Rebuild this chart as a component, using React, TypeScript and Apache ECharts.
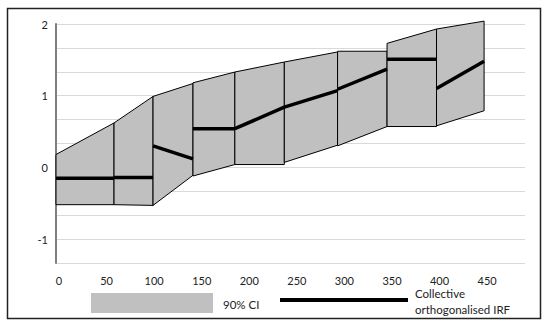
import React, { useEffect, useRef } from "react";
import * as echarts from "echarts";

// x positions of the segment boundaries
const xs = [0, 61, 102, 144, 188, 240, 296, 348, 400, 450];
// 90% CI band, each segment between xs[i] and xs[i+1]
const upperStart = [0.18, 0.62, 0.99, 1.18, 1.33, 1.47, 1.62, 1.73, 1.93];
const upperEnd = [0.62, 0.99, 1.17, 1.33, 1.47, 1.61, 1.62, 1.93, 2.04];
const lowerStart = [-0.52, -0.52, -0.53, -0.12, 0.04, 0.07, 0.3, 0.57, 0.58];
const lowerEnd = [-0.52, -0.53, -0.11, 0.04, 0.04, 0.31, 0.57, 0.57, 0.79];
// Collective orthogonalised IRF
const irfStart = [-0.15, -0.14, 0.3, 0.54, 0.54, 0.84, 1.09, 1.51, 1.1];
const irfEnd = [-0.15, -0.14, 0.12, 0.54, 0.84, 1.07, 1.37, 1.51, 1.48];

const xTickLabels = [0, 50, 100, 150, 200, 250, 300, 350, 400, 450];
const yTickLabels = [-1, 0, 1, 2];
const legendNames = ["90% CI", "Collective", "orthogonalised IRF"];

const FONT = "Lato, 'Open Sans', sans-serif";

export default function App() {
  const ref = useRef<HTMLDivElement>(null);

  useEffect(() => {
    if (!ref.current) return;
    const chart = echarts.init(ref.current, undefined, { renderer: "svg" });

    const bandData = upperStart.map((_, i) => [
      xs[i],
      xs[i + 1],
      lowerStart[i],
      upperStart[i],
      lowerEnd[i],
      upperEnd[i],
    ]);
    const irfData = irfStart.map((_, i) => [xs[i], irfStart[i], xs[i + 1], irfEnd[i]]);

    chart.setOption({
      animation: false,
      grid: { left: 56, top: 24, right: 25, bottom: 62 },
      xAxis: {
        type: "value",
        min: 0,
        max: 493,
        interval: 50,
        axisLine: { show: false },
        axisTick: { show: false },
        splitLine: { show: false },
        axisLabel: {
          margin: 12,
          fontFamily: FONT,
          fontSize: 11,
          color: "#222",
          padding: [0, 0, 0, 6],
          showMaxLabel: false,
          formatter: (v: number) =>
            xTickLabels.includes(Math.round(v)) && Math.abs(v - Math.round(v)) < 1e-6 ? String(Math.round(v)) : "",
        },
      },
      yAxis: {
        type: "value",
        min: -4 / 3,
        max: 2,
        interval: 1 / 3,
        axisLine: { show: true, lineStyle: { color: "#7f7f7f", width: 2 } },
        axisTick: { show: false },
        splitLine: { show: true, lineStyle: { color: "#d9d9d9", width: 1 } },
        axisLabel: {
          margin: 8,
          fontFamily: FONT,
          fontSize: 11,
          color: "#222",
          formatter: (v: number) => {
            const r = Math.round(v);
            return Math.abs(v - r) < 1e-6 && yTickLabels.includes(r) ? String(r) : "";
          },
        },
      },
      series: [
        {
          type: "custom",
          name: "90% CI",
          data: bandData,
          encode: { x: [0, 1], y: [2, 3, 4, 5] },
          renderItem: (params: any, api: any) => {
            const x0 = api.value(0);
            const x1 = api.value(1);
            const pts = [
              api.coord([x0, api.value(2)]),
              api.coord([x0, api.value(3)]),
              api.coord([x1, api.value(5)]),
              api.coord([x1, api.value(4)]),
            ];
            return {
              type: "polygon",
              shape: { points: pts },
              style: { fill: "#c0c0c0", stroke: "#000", lineWidth: 1 },
            };
          },
          z: 2,
        },
        {
          type: "custom",
          name: "Collective orthogonalised IRF",
          data: irfData,
          encode: { x: [0, 2], y: [1, 3] },
          renderItem: (params: any, api: any) => {
            const p0 = api.coord([api.value(0), api.value(1)]);
            const p1 = api.coord([api.value(2), api.value(3)]);
            return {
              type: "line",
              shape: { x1: p0[0], y1: p0[1], x2: p1[0], y2: p1[1] },
              style: { stroke: "#000", lineWidth: 3.5 },
            };
          },
          z: 3,
        },
      ],
      graphic: [
        {
          type: "rect",
          shape: { x: 7.5, y: 8.5, width: 533, height: 310 },
          style: { fill: "none", stroke: "#222", lineWidth: 1.5 },
          silent: true,
        },
        {
          type: "rect",
          shape: { x: 91, y: 293, width: 122, height: 20 },
          style: { fill: "#c0c0c0" },
        },
        {
          type: "text",
          x: 223,
          y: 304,
          style: { text: legendNames[0], fontFamily: FONT, fontSize: 11.5, fill: "#222", verticalAlign: "middle" },
        },
        {
          type: "line",
          shape: { x1: 280, y1: 300, x2: 408, y2: 300 },
          style: { stroke: "#000", lineWidth: 4 },
        },
        {
          type: "text",
          x: 415,
          y: 293,
          style: { text: legendNames[1], fontFamily: FONT, fontSize: 11.5, fill: "#222", verticalAlign: "middle" },
        },
        {
          type: "text",
          x: 415,
          y: 309,
          style: { text: legendNames[2], fontFamily: FONT, fontSize: 11.5, fill: "#222", verticalAlign: "middle" },
        },
      ],
    });

    return () => chart.dispose();
  }, []);

  return (
    <div
      ref={ref}
      style={{ position: "absolute", left: 0, top: 0, width: 550, height: 325 }}
    />
  );
}
